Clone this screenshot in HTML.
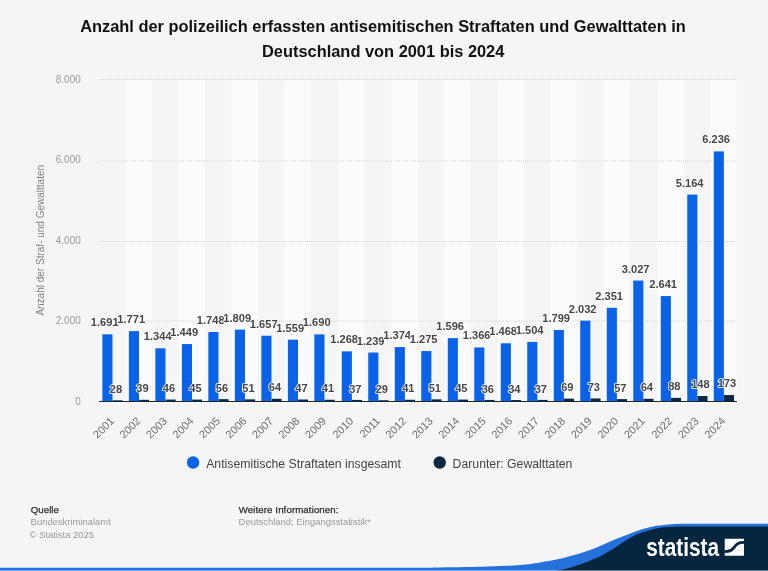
<!DOCTYPE html>
<html lang="de">
<head>
<meta charset="utf-8">
<title>Anzahl der polizeilich erfassten antisemitischen Straftaten und Gewalttaten in Deutschland von 2001 bis 2024</title>
<style>
html,body{margin:0;padding:0;background:#f5f5f5;}
body{width:768px;height:571px;overflow:hidden;font-family:"Liberation Sans",sans-serif;}
svg{display:block;}
text{font-family:"Liberation Sans",sans-serif;}
.title text{font-size:16.4px;font-weight:bold;fill:#111;}
.ylab text{font-size:10px;fill:#999;}
.ytitle{font-size:10px;fill:#808080;}
.dl text{font-size:11.1px;font-weight:bold;fill:#464646;stroke:#fff;stroke-width:1.6px;stroke-linejoin:round;paint-order:stroke fill;}
.xlab text{font-size:10.9px;fill:#6e6e6e;}
.leg{font-size:12.25px;fill:#444;}
.fh{font-size:9.7px;fill:#2e2e2e;stroke:#2e2e2e;stroke-width:0.25px;}
.ft{font-size:9.45px;fill:#999;}
.logo{font-size:25.6px;font-weight:bold;fill:#fff;}
</style>
</head>
<body>
<svg width="768" height="571" viewBox="0 0 768 571">
<defs><filter id="soft" x="-20" y="-20" width="808" height="611" filterUnits="userSpaceOnUse" color-interpolation-filters="sRGB"><feGaussianBlur stdDeviation="0.38"/></filter></defs>
<g filter="url(#soft)">
<rect x="-20" y="-20" width="808" height="611" fill="#f5f5f5"/>
<g fill="#fbfbfb">
<rect x="125.4" y="80.3" width="26.5" height="321.2"/>
<rect x="178.4" y="80.3" width="26.5" height="321.2"/>
<rect x="231.4" y="80.3" width="26.5" height="321.2"/>
<rect x="284.4" y="80.3" width="26.5" height="321.2"/>
<rect x="338.3" y="80.3" width="26.5" height="321.2"/>
<rect x="391.3" y="80.3" width="26.5" height="321.2"/>
<rect x="444.3" y="80.3" width="26.5" height="321.2"/>
<rect x="497.3" y="80.3" width="26.5" height="321.2"/>
<rect x="550.3" y="80.3" width="26.5" height="321.2"/>
<rect x="603.3" y="80.3" width="26.5" height="321.2"/>
<rect x="657.3" y="80.3" width="26.5" height="321.2"/>
<rect x="710.3" y="80.3" width="26.5" height="321.2"/>
</g>
<g stroke="#d4d4d4" stroke-width="1" stroke-dasharray="1 1" fill="none">
<path d="M98.9 79.5H736.9"/>
<path d="M98.9 161H736.9"/>
<path d="M98.9 241.5H736.9"/>
<path d="M98.9 321.1H736.9"/>
</g>
<g class="title" text-anchor="middle">
<text x="383" y="31.9">Anzahl der polizeilich erfassten antisemitischen Straftaten und Gewalttaten in</text>
<text x="383.2" y="56.7">Deutschland von 2001 bis 2024</text>
</g>
<g class="ylab" text-anchor="end">
<text x="80.8" y="82.9">8.000</text>
<text x="80.8" y="163.4">6.000</text>
<text x="80.8" y="243.9">4.000</text>
<text x="80.8" y="324.4">2.000</text>
<text x="80.8" y="404.9">0</text>
</g>
<text class="ytitle" text-anchor="middle" transform="translate(44.3 240.3) rotate(-90)">Anzahl der Straf- und Gewalttaten</text>
<g fill="#fff">
<rect x="101.6" y="333.54" width="11.4" height="67.96"/>
<rect x="112.65" y="400.27" width="10.75" height="1.23" opacity="0.6"/>
<rect x="128.1" y="330.32" width="11.4" height="71.18"/>
<rect x="139.15" y="399.83" width="10.75" height="1.67" opacity="0.6"/>
<rect x="154.6" y="347.5" width="11.4" height="54"/>
<rect x="165.65" y="399.55" width="10.75" height="1.95" opacity="0.6"/>
<rect x="181.1" y="343.28" width="11.4" height="58.22"/>
<rect x="192.15" y="399.59" width="10.75" height="1.91" opacity="0.6"/>
<rect x="207.6" y="331.24" width="11.4" height="70.26"/>
<rect x="218.65" y="399.15" width="10.75" height="2.35" opacity="0.6"/>
<rect x="234.1" y="328.79" width="11.4" height="72.71"/>
<rect x="245.15" y="399.35" width="10.75" height="2.15" opacity="0.6"/>
<rect x="260.6" y="334.91" width="11.4" height="66.59"/>
<rect x="271.65" y="398.82" width="10.75" height="2.68" opacity="0.6"/>
<rect x="287.1" y="338.85" width="11.4" height="62.65"/>
<rect x="298.15" y="399.51" width="10.75" height="1.99" opacity="0.6"/>
<rect x="313.6" y="333.58" width="11.4" height="67.92"/>
<rect x="324.65" y="399.75" width="10.75" height="1.75" opacity="0.6"/>
<rect x="341" y="350.56" width="11.4" height="50.94"/>
<rect x="352.05" y="399.91" width="10.75" height="1.59" opacity="0.6"/>
<rect x="367.5" y="351.73" width="11.4" height="49.77"/>
<rect x="378.55" y="400.23" width="10.75" height="1.27" opacity="0.6"/>
<rect x="394" y="346.3" width="11.4" height="55.2"/>
<rect x="405.05" y="399.75" width="10.75" height="1.75" opacity="0.6"/>
<rect x="420.5" y="350.28" width="11.4" height="51.22"/>
<rect x="431.55" y="399.35" width="10.75" height="2.15" opacity="0.6"/>
<rect x="447" y="337.36" width="11.4" height="64.14"/>
<rect x="458.05" y="399.59" width="10.75" height="1.91" opacity="0.6"/>
<rect x="473.5" y="346.62" width="11.4" height="54.88"/>
<rect x="484.55" y="399.95" width="10.75" height="1.55" opacity="0.6"/>
<rect x="500" y="342.51" width="11.4" height="58.99"/>
<rect x="511.05" y="400.03" width="10.75" height="1.47" opacity="0.6"/>
<rect x="526.5" y="341.06" width="11.4" height="60.44"/>
<rect x="537.55" y="399.91" width="10.75" height="1.59" opacity="0.6"/>
<rect x="553" y="329.19" width="11.4" height="72.31"/>
<rect x="564.05" y="398.62" width="10.75" height="2.88" opacity="0.6"/>
<rect x="579.5" y="319.81" width="11.4" height="81.69"/>
<rect x="590.55" y="398.46" width="10.75" height="3.04" opacity="0.6"/>
<rect x="606" y="306.97" width="11.4" height="94.53"/>
<rect x="617.05" y="399.11" width="10.75" height="2.39" opacity="0.6"/>
<rect x="632.5" y="279.76" width="11.4" height="121.74"/>
<rect x="643.55" y="398.82" width="10.75" height="2.68" opacity="0.6"/>
<rect x="660" y="295.3" width="11.4" height="106.2"/>
<rect x="671.05" y="397.86" width="10.75" height="3.64" opacity="0.6"/>
<rect x="686.5" y="193.75" width="11.4" height="207.75"/>
<rect x="697.55" y="395.44" width="10.75" height="6.06"/>
<rect x="713" y="150.6" width="11.4" height="250.9"/>
<rect x="724.05" y="394.44" width="10.75" height="7.06"/>
</g>
<g fill="#0962e8">
<rect x="102.35" y="334.32" width="10.15" height="67.18"/>
<rect x="128.85" y="331.1" width="10.15" height="70.4"/>
<rect x="155.35" y="348.28" width="10.15" height="53.22"/>
<rect x="181.85" y="344.06" width="10.15" height="57.44"/>
<rect x="208.35" y="332.02" width="10.15" height="69.48"/>
<rect x="234.85" y="329.57" width="10.15" height="71.93"/>
<rect x="261.35" y="335.69" width="10.15" height="65.81"/>
<rect x="287.85" y="339.63" width="10.15" height="61.87"/>
<rect x="314.35" y="334.36" width="10.15" height="67.14"/>
<rect x="341.75" y="351.34" width="10.15" height="50.16"/>
<rect x="368.25" y="352.51" width="10.15" height="48.99"/>
<rect x="394.75" y="347.08" width="10.15" height="54.42"/>
<rect x="421.25" y="351.06" width="10.15" height="50.44"/>
<rect x="447.75" y="338.14" width="10.15" height="63.36"/>
<rect x="474.25" y="347.4" width="10.15" height="54.1"/>
<rect x="500.75" y="343.29" width="10.15" height="58.21"/>
<rect x="527.25" y="341.84" width="10.15" height="59.66"/>
<rect x="553.75" y="329.97" width="10.15" height="71.53"/>
<rect x="580.25" y="320.59" width="10.15" height="80.91"/>
<rect x="606.75" y="307.75" width="10.15" height="93.75"/>
<rect x="633.25" y="280.54" width="10.15" height="120.96"/>
<rect x="660.75" y="296.08" width="10.15" height="105.42"/>
<rect x="687.25" y="194.53" width="10.15" height="206.97"/>
<rect x="713.75" y="151.38" width="10.15" height="250.12"/>
</g>
<path d="M98.9 403.1H736.9" stroke="#fdfdfd" stroke-width="1.6" fill="none"/>
<path d="M98.9 401.5H736.9" stroke="#262626" stroke-width="1" fill="none"/>
<g fill="#0d2843">
<rect x="112.65" y="400.27" width="10" height="1.73"/>
<rect x="139.15" y="399.83" width="10" height="2.17"/>
<rect x="165.65" y="399.55" width="10" height="2.45"/>
<rect x="192.15" y="399.59" width="10" height="2.41"/>
<rect x="218.65" y="399.15" width="10" height="2.85"/>
<rect x="245.15" y="399.35" width="10" height="2.65"/>
<rect x="271.65" y="398.82" width="10" height="3.18"/>
<rect x="298.15" y="399.51" width="10" height="2.49"/>
<rect x="324.65" y="399.75" width="10" height="2.25"/>
<rect x="352.05" y="399.91" width="10" height="2.09"/>
<rect x="378.55" y="400.23" width="10" height="1.77"/>
<rect x="405.05" y="399.75" width="10" height="2.25"/>
<rect x="431.55" y="399.35" width="10" height="2.65"/>
<rect x="458.05" y="399.59" width="10" height="2.41"/>
<rect x="484.55" y="399.95" width="10" height="2.05"/>
<rect x="511.05" y="400.03" width="10" height="1.97"/>
<rect x="537.55" y="399.91" width="10" height="2.09"/>
<rect x="564.05" y="398.62" width="10" height="3.38"/>
<rect x="590.55" y="398.46" width="10" height="3.54"/>
<rect x="617.05" y="399.11" width="10" height="2.89"/>
<rect x="643.55" y="398.82" width="10" height="3.18"/>
<rect x="671.05" y="397.86" width="10" height="4.14"/>
<rect x="697.55" y="396.04" width="10" height="5.96"/>
<rect x="724.05" y="395.04" width="10" height="6.96"/>
</g>
<g class="dl">
<text x="90.83" y="326.34">1.691</text>
<text x="109.74" y="392.87">28</text>
<text x="117.33" y="323.12">1.771</text>
<text x="136.24" y="392.43">39</text>
<text x="143.83" y="340.3">1.344</text>
<text x="162.74" y="392.15">46</text>
<text x="170.33" y="336.08">1.449</text>
<text x="189.24" y="392.19">45</text>
<text x="196.83" y="324.04">1.748</text>
<text x="215.74" y="391.75">56</text>
<text x="223.33" y="321.59">1.809</text>
<text x="242.24" y="391.95">51</text>
<text x="249.83" y="327.71">1.657</text>
<text x="268.74" y="391.42">64</text>
<text x="276.33" y="331.65">1.559</text>
<text x="295.24" y="392.11">47</text>
<text x="302.83" y="326.38">1.690</text>
<text x="321.74" y="392.35">41</text>
<text x="330.23" y="343.36">1.268</text>
<text x="349.14" y="392.51">37</text>
<text x="356.73" y="344.53">1.239</text>
<text x="375.64" y="392.83">29</text>
<text x="383.23" y="339.1">1.374</text>
<text x="402.14" y="392.35">41</text>
<text x="409.73" y="343.08">1.275</text>
<text x="428.64" y="391.95">51</text>
<text x="436.23" y="330.16">1.596</text>
<text x="455.14" y="392.19">45</text>
<text x="462.73" y="339.42">1.366</text>
<text x="481.64" y="392.55">36</text>
<text x="489.23" y="335.31">1.468</text>
<text x="508.14" y="392.63">34</text>
<text x="515.73" y="333.86">1.504</text>
<text x="534.64" y="392.51">37</text>
<text x="542.23" y="321.99">1.799</text>
<text x="561.14" y="391.22">69</text>
<text x="568.73" y="312.61">2.032</text>
<text x="587.64" y="391.06">73</text>
<text x="595.23" y="299.77">2.351</text>
<text x="614.14" y="391.71">57</text>
<text x="621.73" y="272.56">3.027</text>
<text x="640.64" y="391.42">64</text>
<text x="649.23" y="288.1">2.641</text>
<text x="668.14" y="390.46">88</text>
<text x="675.73" y="186.55">5.164</text>
<text x="691.14" y="388.04">148</text>
<text x="702.23" y="143.4">6.236</text>
<text x="717.64" y="387.04">173</text>
</g>
<g class="xlab" text-anchor="end">
<text transform="translate(114.75 421.8) rotate(-45)">2001</text>
<text transform="translate(141.25 421.8) rotate(-45)">2002</text>
<text transform="translate(167.75 421.8) rotate(-45)">2003</text>
<text transform="translate(194.25 421.8) rotate(-45)">2004</text>
<text transform="translate(220.75 421.8) rotate(-45)">2005</text>
<text transform="translate(247.25 421.8) rotate(-45)">2006</text>
<text transform="translate(273.75 421.8) rotate(-45)">2007</text>
<text transform="translate(300.25 421.8) rotate(-45)">2008</text>
<text transform="translate(326.75 421.8) rotate(-45)">2009</text>
<text transform="translate(354.15 421.8) rotate(-45)">2010</text>
<text transform="translate(380.65 421.8) rotate(-45)">2011</text>
<text transform="translate(407.15 421.8) rotate(-45)">2012</text>
<text transform="translate(433.65 421.8) rotate(-45)">2013</text>
<text transform="translate(460.15 421.8) rotate(-45)">2014</text>
<text transform="translate(486.65 421.8) rotate(-45)">2015</text>
<text transform="translate(513.15 421.8) rotate(-45)">2016</text>
<text transform="translate(539.65 421.8) rotate(-45)">2017</text>
<text transform="translate(566.15 421.8) rotate(-45)">2018</text>
<text transform="translate(592.65 421.8) rotate(-45)">2019</text>
<text transform="translate(619.15 421.8) rotate(-45)">2020</text>
<text transform="translate(645.65 421.8) rotate(-45)">2021</text>
<text transform="translate(673.15 421.8) rotate(-45)">2022</text>
<text transform="translate(699.65 421.8) rotate(-45)">2023</text>
<text transform="translate(726.15 421.8) rotate(-45)">2024</text>
</g>
<circle cx="193.1" cy="462.5" r="6.2" fill="#0962e8"/>
<text class="leg" x="206.2" y="468.1">Antisemitische Straftaten insgesamt</text>
<circle cx="439.7" cy="462.5" r="6.2" fill="#0d2843"/>
<text class="leg" x="452.6" y="468.1">Darunter: Gewalttaten</text>
<text class="fh" x="30.7" y="513.1" textLength="28.2" lengthAdjust="spacing">Quelle</text>
<text class="ft" x="30.6" y="525.4">Bundeskriminalamt</text>
<text class="ft" x="29.4" y="538.1">© Statista 2025</text>
<text class="fh" x="238.7" y="513.1" textLength="99.8" lengthAdjust="spacing">Weitere Informationen:</text>
<text class="ft" x="238.6" y="525.4">Deutschland; Eingangsstatistik*</text>
<path fill="#2571dc" d="M-20 567.8L0 567.8C63.33 567.8 306.67 567.85 380 567.8C453.33 567.75 422 567.7 440 567.5C458 567.3 474.67 567.02 488 566.6C501.33 566.18 511.33 565.7 520 565C528.67 564.3 533.33 563.45 540 562.4C546.67 561.35 554.17 559.97 560 558.7C565.83 557.43 570 556.27 575 554.8C580 553.33 585.33 551.58 590 549.9C594.67 548.22 598.67 546.5 603 544.7C607.33 542.9 611.67 540.9 616 539.1C620.33 537.3 624.67 535.53 629 533.9C633.33 532.27 637.67 530.6 642 529.3C646.33 528 650.67 526.92 655 526.1C659.33 525.28 663.67 524.77 668 524.4C672.33 524.02 676.5 523.95 681 523.85C685.5 523.75 680.5 523.81 695 523.8C709.5 523.79 755.83 523.8 768 523.8H790V590H-20Z"/>
<path fill="#05263f" d="M553 571.5C555.17 571.05 561.5 569.95 566 568.8C570.5 567.65 576 565.97 580 564.6C584 563.23 586.17 562.25 590 560.6C593.83 558.95 598.67 556.98 603 554.7C607.33 552.42 611.67 549.62 616 546.9C620.33 544.18 624.67 540.78 629 538.4C633.33 536.02 637.67 534.22 642 532.6C646.33 530.98 650.67 529.62 655 528.7C659.33 527.78 663.67 527.45 668 527.1C672.33 526.75 676.5 526.7 681 526.6C685.5 526.5 680.5 526.52 695 526.5C709.5 526.48 755.83 526.5 768 526.5H790V590H553Z"/>
<rect x="-20" y="570" width="808" height="20" fill="#fff" opacity="0.4"/>
<text class="logo" transform="translate(646.3 555.7) scale(0.812 1)">statista</text>
<rect x="724.75" y="538.75" width="19.2" height="17" fill="#fff"/>
<path d="M724.4 551.6C730.6 551.6 732.3 549.9 734.3 547.1C736.3 544.3 738 542.4 744.2 542.4" stroke="#05263f" stroke-width="2.9" fill="none"/>
</g>
</svg>
</body>
</html>
